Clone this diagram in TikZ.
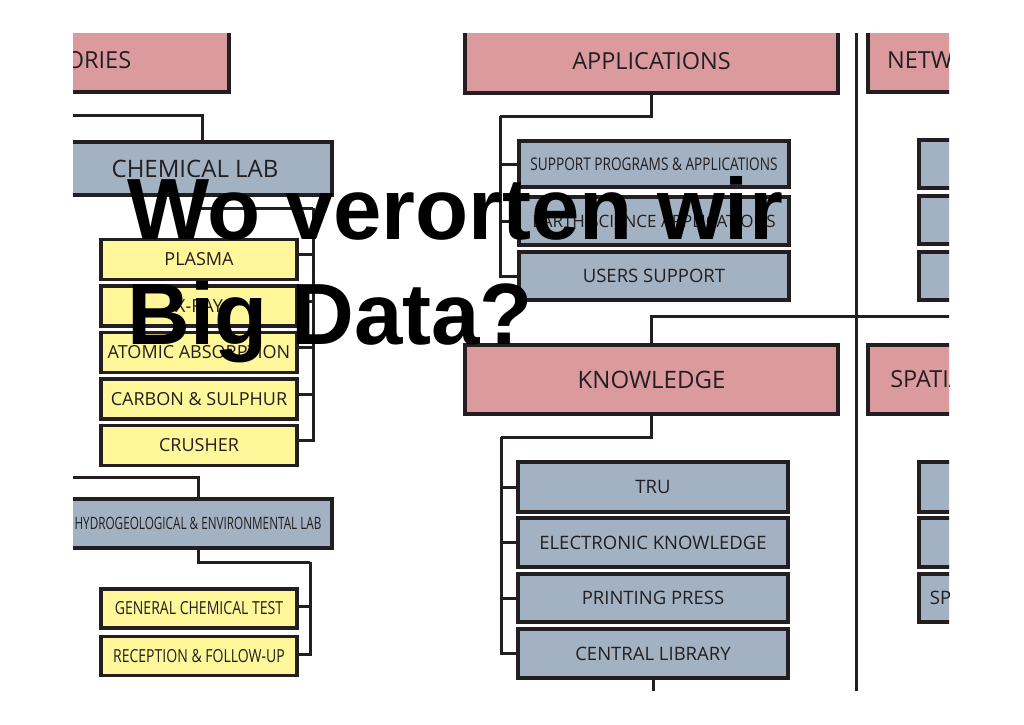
\documentclass[tikz,border=0pt]{standalone}
\usepackage{fontspec}
\setmainfont{Open Sans}
\newfontfamily\titlefont{Liberation Sans}
\newfontfamily\narrowfont[FakeStretch=0.78]{Open Sans}
\newfontfamily\narrowerfont[FakeStretch=0.69]{Open Sans}
\definecolor{inkline}{HTML}{231F20}
\definecolor{headpink}{HTML}{DB9A9E}
\definecolor{unitblue}{HTML}{A2B2C2}
\definecolor{testyellow}{HTML}{FFF799}

\begin{document}
\begin{tikzpicture}[x=1pt,y=-1pt,
    box/.style={draw=inkline,line width=3.5pt,rectangle,inner sep=0pt,text=inkline},
    headbox/.style={box,fill=headpink,font=\fontsize{23.5}{28}\selectfont},
    unitbox/.style={box,fill=unitblue,font=\fontsize{18.5}{22}\selectfont},
    testbox/.style={box,fill=testyellow,minimum width=196pt,minimum height=40pt,font=\fontsize{18}{22}\selectfont},
    wire/.style={draw=inkline,line width=3pt},
    titletext/.style={inner sep=0pt,align=left,text=black,font=\titlefont\bfseries\fontsize{87}{105}\selectfont}]
  \useasboundingbox (0,0) rectangle (1024,724);
  \begin{scope}
    \clip (73,33) rectangle (949,690);
    % left column
    \coordinate (labin) at (40,115);
    \coordinate (chembus) at (313,208);
    \coordinate (hydroin) at (40,477);
    \coordinate (hydrobus) at (310,562);
    \node[headbox,minimum width=261pt,minimum height=63pt] (lab) at (98.5,60.5) {ORIES};
    \node[unitbox,font=\fontsize{24}{28}\selectfont,minimum width=274pt,minimum height=53pt] (chem) at (195,168.5) {CHEMICAL LAB};
    \node[testbox] (plasma) at (199,259.5) {PLASMA};
    \node[testbox] (xray) at (199,306) {X-RAY};
    \node[testbox] (atomic) at (199,352.5) {ATOMIC ABSORPTION};
    \node[testbox] (carbon) at (199,399) {CARBON \& SULPHUR};
    \node[testbox] (crusher) at (199,445.5) {CRUSHER};
    \node[unitbox,font=\narrowerfont\fontsize{17}{20}\selectfont,minimum width=268pt,minimum height=49pt] (hydro) at (198,523.5) {HYDROGEOLOGICAL \& ENVIRONMENTAL LAB};
    \node[testbox,font=\narrowfont\fontsize{18}{22}\selectfont,minimum height=39pt] (general) at (199,608.5) {GENERAL CHEMICAL TEST};
    \node[testbox,font=\narrowfont\fontsize{18}{22}\selectfont,minimum height=39pt] (reception) at (199,656) {RECEPTION \& FOLLOW-UP};
    \draw[wire] (labin) -| ([xshift=7pt]chem.north);
    \draw[wire] (chem.south) |- (chembus);
    \foreach \n in {plasma,xray,atomic,carbon,crusher}
      \draw[wire] ([yshift=5pt]\n.east) -| (chembus);
    \draw[wire] (hydroin) -| (hydro.north);
    \draw[wire] (hydro.south) |- (hydrobus);
    \foreach \n in {general,reception}
      \draw[wire] ([yshift=2pt]\n.east) -| (hydrobus);
    % middle column
    \coordinate (appbus) at (500,116);
    \coordinate (knowbus) at (501,437);
    \coordinate (netbus) at (960,316);
    \coordinate (libout) at (653,700);
    \node[headbox,minimum width=373pt,minimum height=64pt] (app) at (651.5,61) {APPLICATIONS};
    \node[unitbox,font=\narrowfont\fontsize{17.5}{21}\selectfont,minimum width=270pt,minimum height=46pt] (support) at (654,164) {SUPPORT PROGRAMS \& APPLICATIONS};
    \node[unitbox,font=\fontsize{17}{21}\selectfont,minimum width=270pt,minimum height=48pt] (earth) at (654,221) {EARTH SCIENCE APPLICATIONS};
    \node[unitbox,minimum width=270pt,minimum height=48pt] (users) at (654,276) {USERS SUPPORT};
    \node[headbox,font=\fontsize{24}{28}\selectfont,minimum width=373pt,minimum height=69pt] (know) at (651.5,379.5) {KNOWLEDGE};
    \node[unitbox,minimum width=270pt,minimum height=50pt] (tru) at (653,487) {TRU};
    \node[unitbox,minimum width=270pt,minimum height=49pt] (electronic) at (653,542.5) {ELECTRONIC KNOWLEDGE};
    \node[unitbox,minimum width=270pt,minimum height=48pt] (printing) at (653,598) {PRINTING PRESS};
    \node[unitbox,minimum width=270pt,minimum height=49pt] (library) at (653,653.5) {CENTRAL LIBRARY};
    \draw[wire] (app.south) |- (appbus);
    \foreach \n in {support,earth,users}
      \draw[wire] (\n.west) -| (appbus);
    \draw[wire] (know.north) |- (netbus);
    \draw[wire] (know.south) |- (knowbus);
    \foreach \n in {tru,electronic,printing,library}
      \draw[wire] (\n.west) -| (knowbus);
    \draw[wire] (library.south) -- (libout);
    % right column
    \coordinate (septop) at (856,20);
    \coordinate (sepbot) at (856,700);
    \draw[wire] (septop) -- (sepbot);
    \node[headbox,minimum width=122pt,minimum height=63pt] (network) at (929,60.5) {NETWO};
    \node[unitbox,minimum width=86pt,minimum height=48pt] (netone) at (962,164) {};
    \node[unitbox,minimum width=86pt,minimum height=48pt] (nettwo) at (962,220) {};
    \node[unitbox,minimum width=86pt,minimum height=48pt] (netthree) at (962,276) {};
    \node[headbox,minimum width=118pt,minimum height=69pt] (spatial) at (927,379.5) {SPATIA};
    \node[unitbox,minimum width=86pt,minimum height=50pt] (spatone) at (962,487) {};
    \node[unitbox,minimum width=86pt,minimum height=49pt] (spattwo) at (962,542.5) {};
    \node[unitbox,minimum width=43pt,minimum height=48pt] (spatthree) at (940.5,598) {SP};
  \end{scope}
  \node[titletext,anchor=north west] (title) at (127,176) {Wo verorten wir\\Big Data?};
\end{tikzpicture}
\end{document}
